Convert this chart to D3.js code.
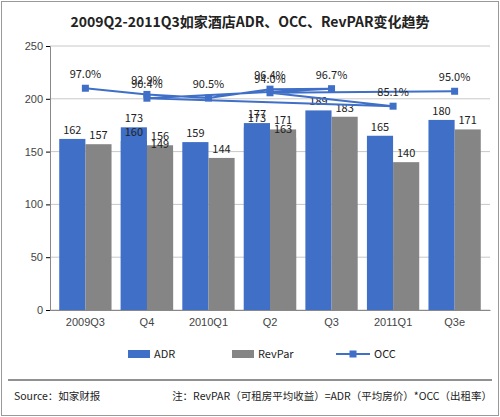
<!DOCTYPE html>
<html><head><meta charset="utf-8">
<script src="https://cdn.jsdelivr.net/npm/d3@7"></script>
<style>body{margin:0;background:#fff;font-family:"Noto Sans CJK SC","Noto Sans",sans-serif;}</style>
</head><body>
<script>
const quarters = ["2009Q3","Q4","2010Q1","Q2","Q3","Q4","2011Q1","Q2","Q3e"];
const adr = [162,160,159,177,189,173,165,173,180];
const revpar = [157,149,144,171,183,156,140,163,171];
const occ = [97.0,92.9,90.5,96.4,96.7,90.4,85.1,94.0,95.0];
const yTicks = [0,50,100,150,200,250];

const W = 500, H = 417;
const mLeft = 50, mRight = 490, mTop = 46, mBottom = 310;

const svg = d3.select("body").append("svg").attr("width", W).attr("height", H);

// frame
svg.append("rect").attr("x",1.5).attr("y",1.5).attr("width",W-3).attr("height",H-3)
  .attr("fill","none").attr("stroke","#999");

svg.append("text").attr("x",W/2).attr("y",27).attr("text-anchor","middle")
  .attr("font-size",14).attr("font-weight","bold").attr("fill","#222")
  .text("2009Q2-2011Q3如家酒店ADR、OCC、RevPAR变化趋势");

const x = d3.scaleBand().domain(quarters).range([mLeft,mRight]).padding(0.15);
const y = d3.scaleLinear().domain([0,250]).range([mBottom,mTop]);
// hidden secondary scale for OCC
const y2 = d3.scaleLinear().domain([-50,125]).range([mBottom,mTop]);

// gridlines
svg.append("g").selectAll("line").data(yTicks).enter().append("line")
  .attr("x1",mLeft).attr("x2",mRight).attr("y1",d=>y(d)).attr("y2",d=>y(d))
  .attr("stroke","#c8c8c8");

const yAxis = svg.append("g").attr("transform",`translate(${mLeft},0)`)
  .call(d3.axisLeft(y).tickValues(yTicks).tickSize(4));
yAxis.select(".domain").attr("stroke","#888");
yAxis.selectAll("text").attr("font-size",11).attr("fill","#444");

const xAxis = svg.append("g").attr("transform",`translate(0,${mBottom})`)
  .call(d3.axisBottom(x).tickSize(0).tickPadding(8));
xAxis.select(".domain").attr("stroke","#888");
xAxis.selectAll("text").attr("font-size",11).attr("fill","#444");

const bw = x.bandwidth()/2;
const g = svg.append("g");
g.selectAll(".adr").data(adr).enter().append("rect")
  .attr("x",(d,i)=>x(quarters[i])).attr("y",d=>y(d)).attr("width",bw).attr("height",d=>y(0)-y(d))
  .attr("fill","#3f6fc6");
g.selectAll(".rev").data(revpar).enter().append("rect")
  .attr("x",(d,i)=>x(quarters[i])+bw).attr("y",d=>y(d)).attr("width",bw).attr("height",d=>y(0)-y(d))
  .attr("fill","#858585");
g.selectAll(".la").data(adr).enter().append("text")
  .attr("x",(d,i)=>x(quarters[i])+bw/2).attr("y",d=>y(d)-5).attr("text-anchor","middle")
  .attr("font-size",11).attr("fill","#222").text(d=>d);
g.selectAll(".lr").data(revpar).enter().append("text")
  .attr("x",(d,i)=>x(quarters[i])+bw*1.5).attr("y",d=>y(d)-5).attr("text-anchor","middle")
  .attr("font-size",11).attr("fill","#222").text(d=>d);

const cx = (d,i)=>x(quarters[i])+x.bandwidth()/2;
svg.append("path").datum(occ)
  .attr("d",d3.line().x(cx).y(d=>y2(d)))
  .attr("fill","none").attr("stroke","#3f6fc6").attr("stroke-width",2);
svg.selectAll(".om").data(occ).enter().append("rect")
  .attr("x",(d,i)=>cx(d,i)-3.5).attr("y",d=>y2(d)-3.5).attr("width",7).attr("height",7)
  .attr("fill","#3f6fc6");
svg.selectAll(".ol").data(occ).enter().append("text")
  .attr("x",cx).attr("y",d=>y2(d)-10).attr("text-anchor","middle")
  .attr("font-size",11).attr("fill","#222").text(d=>d.toFixed(1)+"%");

// legend
const leg = svg.append("g").attr("font-size",11).attr("fill","#222");
leg.append("rect").attr("x",128).attr("y",350).attr("width",22).attr("height",8).attr("fill","#3f6fc6");
leg.append("text").attr("x",154).attr("y",358).text("ADR");
leg.append("rect").attr("x",232).attr("y",350).attr("width",22).attr("height",8).attr("fill","#858585");
leg.append("text").attr("x",258).attr("y",358).text("RevPar");
leg.append("line").attr("x1",336).attr("x2",370).attr("y1",354).attr("y2",354).attr("stroke","#3f6fc6").attr("stroke-width",2);
leg.append("rect").attr("x",349.5).attr("y",350.5).attr("width",7).attr("height",7).attr("fill","#3f6fc6");
leg.append("text").attr("x",374).attr("y",358).text("OCC");

svg.append("line").attr("x1",8).attr("x2",492).attr("y1",380).attr("y2",380).attr("stroke","#222");
svg.append("text").attr("x",14).attr("y",400).attr("font-size",10.5).attr("fill","#222").text("Source：如家财报");
svg.append("text").attr("x",492).attr("y",400).attr("text-anchor","end").attr("font-size",10.5).attr("fill","#222")
  .text("注：RevPAR（可租房平均收益）=ADR（平均房价）*OCC（出租率）");
</script>
</body></html>
